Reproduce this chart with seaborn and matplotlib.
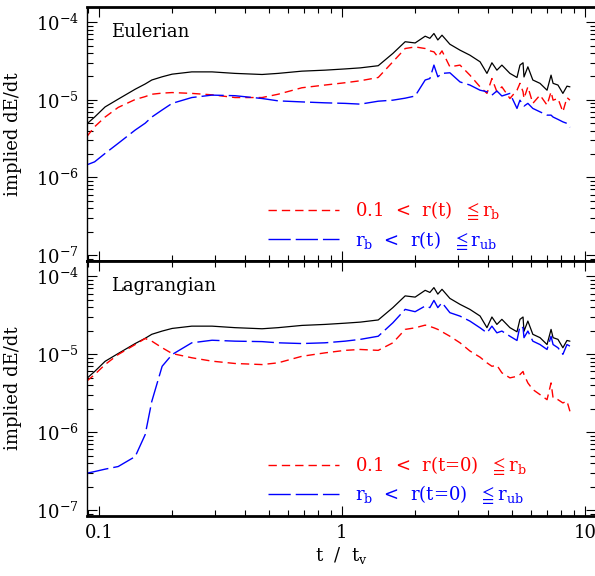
"""
Implied dE/dt against t / t_v, Eulerian (top) and Lagrangian (bottom) shells.
"""

import matplotlib
matplotlib.use("Agg")
import matplotlib.pyplot as plt
import seaborn as sns

# time in units of t_v (same snapshots for every curve)
t_over_tv = [0.089, 0.096, 0.106, 0.12, 0.141, 0.155, 0.165, 0.182, 0.2, 0.241,
             0.292, 0.363, 0.469, 0.546, 0.684, 0.851, 1.03, 1.19, 1.41, 1.62,
             1.82, 2.0, 2.2, 2.3, 2.39, 2.48, 2.58, 2.78, 3.06, 3.36,
             3.7, 3.95, 4.14, 4.34, 4.55, 4.91, 5.25, 5.4, 5.56, 5.61,
             5.82, 6.1, 6.53, 6.98, 7.25, 7.39, 7.74, 8.11, 8.43, 8.67]

# total (black, same in both panels)
total_rate = [4.87e-6, 6.0e-6, 8.1e-6, 1.02e-5, 1.37e-5, 1.6e-5, 1.8e-5, 1.98e-5, 2.14e-5, 2.29e-5,
              2.29e-5, 2.19e-5, 2.12e-5, 2.19e-5, 2.34e-5, 2.41e-5, 2.5e-5, 2.58e-5, 2.75e-5, 3.96e-5,
              5.6e-5, 5.4e-5, 6.6e-5, 6.2e-5, 7.15e-5, 5.9e-5, 6.8e-5, 5.2e-5, 4.36e-5, 3.76e-5,
              3.09e-5, 2.19e-5, 3.0e-5, 2.41e-5, 2.8e-5, 2.19e-5, 1.94e-5, 2.8e-5, 3.0e-5, 1.97e-5,
              2.66e-5, 1.8e-5, 1.63e-5, 1.33e-5, 2.08e-5, 1.63e-5, 1.55e-5, 1.21e-5, 1.5e-5, 1.47e-5]

# Eulerian shells
eul_inner = [3.34e-6, 4.5e-6, 6.0e-6, 7.98e-6, 1.01e-5, 1.1e-5, 1.18e-5, 1.22e-5, 1.24e-5, 1.21e-5,
             1.16e-5, 1.07e-5, 1.07e-5, 1.18e-5, 1.43e-5, 1.55e-5, 1.66e-5, 1.76e-5, 1.94e-5, 3.09e-5,
             4.58e-5, 4.8e-5, 4.58e-5, 4.27e-5, 4.15e-5, 3.58e-5, 4.27e-5, 2.66e-5, 2.8e-5, 2.08e-5,
             1.47e-5, 1.21e-5, 1.88e-5, 1.27e-5, 1.47e-5, 1.04e-5, 1.33e-5, 1.63e-5, 1.27e-5, 1.04e-5,
             1.47e-5, 9.0e-6, 1.15e-5, 8.55e-6, 1.27e-5, 9.9e-6, 1.04e-5, 7.0e-6, 1.07e-5, 9.9e-6]
eul_outer = [1.45e-6, 1.59e-6, 2.04e-6, 2.75e-6, 4.08e-6, 5.0e-6, 6.0e-6, 7.4e-6, 9.0e-6, 1.07e-5,
             1.15e-5, 1.13e-5, 1.04e-5, 9.7e-6, 9.4e-6, 9.15e-6, 9.0e-6, 8.8e-6, 9.6e-6, 9.9e-6,
             1.05e-5, 1.12e-5, 1.8e-5, 1.88e-5, 2.8e-5, 1.98e-5, 2.19e-5, 2.23e-5, 1.7e-5, 1.55e-5,
             1.33e-5, 1.27e-5, 1.15e-5, 1.3e-5, 1.12e-5, 1.21e-5, 7.75e-6, 9.9e-6, 8.55e-6, 8.3e-6,
             9.0e-6, 7.75e-6, 7.0e-6, 6.35e-6, 6.35e-6, 6.0e-6, 5.6e-6, 5.2e-6, 4.97e-6, 4.42e-6]

# Lagrangian shells
lag_inner = [4.5e-6, 5.48e-6, 7.36e-6, 9.9e-6, 1.33e-5, 1.59e-5, 1.47e-5, 1.21e-5, 1.02e-5, 9.0e-6,
             8.14e-6, 7.6e-6, 7.36e-6, 7.75e-6, 9.4e-6, 1.04e-5, 1.12e-5, 1.15e-5, 1.12e-5, 1.4e-5,
             2.08e-5, 2.18e-5, 2.36e-5, 2.27e-5, 2.18e-5, 2.08e-5, 1.94e-5, 1.7e-5, 1.4e-5, 1.1e-5,
             9.15e-6, 7.75e-6, 7.0e-6, 7.2e-6, 5.77e-6, 4.97e-6, 5.2e-6, 5.48e-6, 6.0e-6, 5.48e-6,
             4.28e-6, 3.52e-6, 3.03e-6, 2.61e-6, 4.28e-6, 2.75e-6, 2.61e-6, 2.37e-6, 2.5e-6, 1.85e-6]
lag_outer = [2.97e-7, 3.12e-7, 3.35e-7, 3.62e-7, 4.86e-7, 9.3e-7, 2.48e-6, 7.0e-6, 9.9e-6, 1.4e-5,
             1.51e-5, 1.47e-5, 1.45e-5, 1.4e-5, 1.37e-5, 1.4e-5, 1.47e-5, 1.55e-5, 1.7e-5, 2.53e-5,
             3.76e-5, 3.51e-5, 4.15e-5, 3.96e-5, 4.9e-5, 3.96e-5, 4.58e-5, 3.41e-5, 3.08e-5, 2.66e-5,
             2.18e-5, 1.88e-5, 2.29e-5, 1.88e-5, 1.98e-5, 1.7e-5, 1.5e-5, 2.29e-5, 2.18e-5, 1.63e-5,
             1.98e-5, 1.47e-5, 1.33e-5, 1.15e-5, 1.7e-5, 1.33e-5, 1.21e-5, 9.96e-6, 1.33e-5, 1.27e-5]

panel_names = ["Eulerian", "Lagrangian"]
eul_labels = [r"0.1  <  r(t)  $\leqq$r$_\mathrm{b}$", r"r$_\mathrm{b}$  <  r(t)  $\leqq$r$_\mathrm{ub}$"]
lag_labels = [r"0.1  <  r(t=0)  $\leqq$r$_\mathrm{b}$", r"r$_\mathrm{b}$  <  r(t=0)  $\leqq$r$_\mathrm{ub}$"]
x_ticks = [0.1, 1, 10]
x_tick_labels = ["0.1", "1", "10"]

FS = 13


def draw_panel(ax, inner, outer, labels, name):
    """One log-log panel: total, inner shell, outer shell"""
    sns.lineplot(x=t_over_tv, y=total_rate, ax=ax, color="black", lw=0.9)
    sns.lineplot(x=t_over_tv, y=inner, ax=ax, color="red", lw=1.0,
                 linestyle=(0, (6, 3.6)), label=labels[0])
    sns.lineplot(x=t_over_tv, y=outer, ax=ax, color="blue", lw=1.0,
                 linestyle=(0, (16, 3.6)), label=labels[1])

    ax.set_xscale("log")
    ax.set_yscale("log")
    ax.set_xlim(0.0893, 11.1)
    ax.set_ylim(8.4e-8, 1.57e-4)
    ax.set_xticks(x_ticks)

    ax.tick_params(which="both", direction="in", top=True, right=True, width=0.8,
                   color="black", labelcolor="black")
    ax.tick_params(which="major", length=7.5, labelsize=FS, pad=6)
    ax.tick_params(which="minor", length=4)
    for side in ["top", "bottom"]:
        ax.spines[side].set_linewidth(2.0)
    for side in ["left", "right"]:
        ax.spines[side].set_linewidth(1.0)

    ax.set_ylabel("implied dE/dt", fontsize=FS)
    ax.yaxis.set_label_coords(-0.128, 0.5)
    ax.text(0.047, 0.90, name, transform=ax.transAxes, fontsize=FS, va="center")

    ax.legend(loc="center left", bbox_to_anchor=(0.356, 0.14), frameon=False,
              borderpad=0, borderaxespad=0, handlelength=3.9, handletextpad=0.9,
              labelspacing=0.35, labelcolor="linecolor", fontsize=FS)


def main():
    sns.set_theme(style="ticks")
    plt.rcParams["font.family"] = ["DejaVu Serif", "DejaVu Sans"]
    plt.rcParams["mathtext.fontset"] = "dejavuserif"
    for key in ["text.color", "axes.labelcolor", "axes.edgecolor", "xtick.color", "ytick.color"]:
        plt.rcParams[key] = "black"

    fig = plt.figure(figsize=(5.95, 5.76), dpi=100)
    ax_top = fig.add_axes([0.1462, 0.5469, 0.8555, 0.441])
    ax_bot = fig.add_axes([0.1462, 0.1042, 0.8555, 0.4427])

    draw_panel(ax_top, eul_inner, eul_outer, eul_labels, panel_names[0])
    draw_panel(ax_bot, lag_inner, lag_outer, lag_labels, panel_names[1])

    ax_top.set_xticklabels([])
    ax_top.set_xlabel("")
    ax_bot.set_xticklabels(x_tick_labels)
    ax_bot.set_xlabel(r"t  /  t$_\mathrm{v}$", fontsize=FS)
    ax_bot.xaxis.set_label_coords(0.5, -0.114)

    fig.savefig("out.png", dpi=100)
    plt.close(fig)


if __name__ == "__main__":
    main()
